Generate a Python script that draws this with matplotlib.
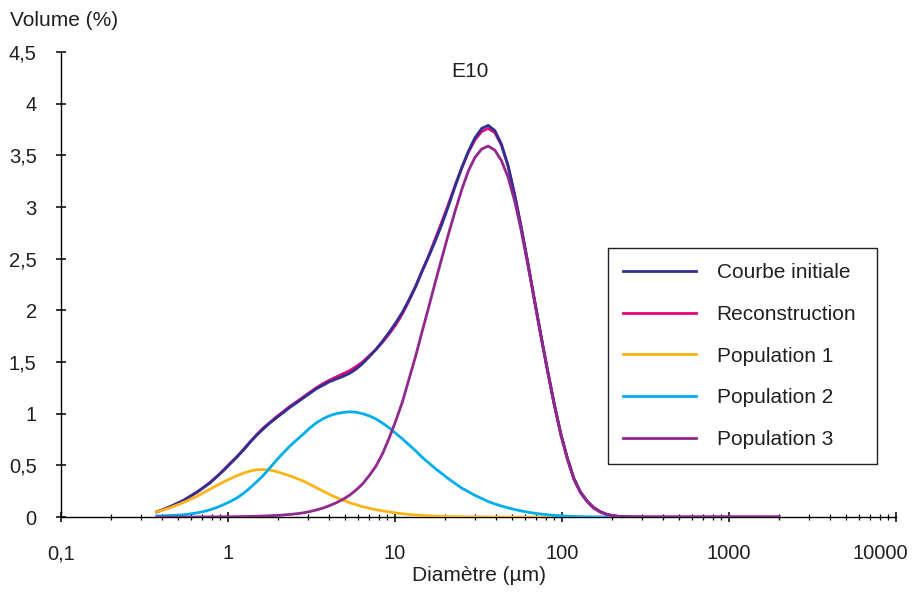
import matplotlib
matplotlib.use("Agg")
import matplotlib.pyplot as plt
from matplotlib.ticker import FixedLocator, FixedFormatter, LogLocator, NullFormatter
from matplotlib.transforms import ScaledTranslation

plt.rcParams["font.family"] = ["Liberation Sans", "DejaVu Sans"]

# particle diameters (µm) on the analyser's log grid
diameter = [0.375, 0.411, 0.45, 0.493, 0.54, 0.592, 0.65, 0.712, 0.78, 0.855,
            0.94, 1.03, 1.13, 1.24, 1.35, 1.48, 1.62, 1.78, 1.95, 2.14,
            2.34, 2.57, 2.81, 3.08, 3.37, 3.70, 4.05, 4.44, 4.86, 5.33,
            5.83, 6.39, 7.0, 7.67, 8.4, 9.2, 10.1, 11.1, 12.1, 13.3,
            14.5, 15.9, 17.4, 19.1, 20.9, 22.9, 25.1, 27.5, 30.1, 33.0,
            36.1, 39.6, 43.3, 47.5, 52.0, 57.0, 62.4, 68.4, 74.9, 82.1,
            89.9, 98.5, 108, 118, 129, 142, 155, 170, 186, 204,
            223, 245, 268, 321, 386, 463, 556, 667, 800, 960,
            1152, 1383, 1660, 1992]

# volume fractions (%)
courbe_initiale = [0.05, 0.075, 0.10, 0.13, 0.16, 0.20, 0.24, 0.285, 0.33, 0.39,
                   0.45, 0.515, 0.58, 0.65, 0.72, 0.79, 0.85, 0.91, 0.96, 1.01,
                   1.06, 1.105, 1.15, 1.195, 1.24, 1.275, 1.31, 1.335, 1.36, 1.39,
                   1.43, 1.485, 1.55, 1.62, 1.70, 1.785, 1.88, 1.985, 2.10, 2.235,
                   2.375, 2.52, 2.67, 2.835, 3.01, 3.20, 3.38, 3.54, 3.67, 3.76,
                   3.79, 3.74, 3.61, 3.40, 3.12, 2.80, 2.46, 2.10, 1.75, 1.41,
                   1.09, 0.80, 0.56, 0.37, 0.24, 0.15, 0.09, 0.05, 0.025, 0.012,
                   0.005, 0.002, 0.001, 0, 0, 0, 0, 0, 0, 0,
                   0, 0, 0, 0]
reconstruction = [0.05, 0.075, 0.10, 0.13, 0.16, 0.20, 0.24, 0.285, 0.335, 0.39,
                  0.455, 0.52, 0.585, 0.655, 0.725, 0.795, 0.86, 0.915, 0.97, 1.02,
                  1.07, 1.115, 1.16, 1.205, 1.25, 1.29, 1.325, 1.355, 1.385, 1.415,
                  1.455, 1.50, 1.56, 1.62, 1.69, 1.77, 1.86, 1.97, 2.09, 2.23,
                  2.38, 2.53, 2.69, 2.86, 3.03, 3.21, 3.38, 3.53, 3.65, 3.73,
                  3.76, 3.72, 3.60, 3.40, 3.12, 2.80, 2.46, 2.10, 1.75, 1.41,
                  1.09, 0.80, 0.56, 0.37, 0.24, 0.15, 0.09, 0.05, 0.025, 0.012,
                  0.005, 0.002, 0.001, 0, 0, 0, 0, 0, 0, 0,
                  0, 0, 0, 0]
population_1 = [0.05, 0.07, 0.09, 0.115, 0.14, 0.17, 0.20, 0.235, 0.27, 0.305,
                0.34, 0.37, 0.40, 0.425, 0.445, 0.457, 0.46, 0.455, 0.44, 0.42,
                0.40, 0.375, 0.35, 0.318, 0.285, 0.252, 0.22, 0.19, 0.165, 0.14,
                0.12, 0.10, 0.085, 0.072, 0.06, 0.05, 0.04, 0.032, 0.025, 0.02,
                0.015, 0.012, 0.009, 0.007, 0.005, 0.004, 0.003, 0.002, 0.002, 0.001,
                0.001, 0, 0, 0, 0, 0, 0, 0, 0, 0,
                0, 0, 0]
population_2 = [0.01, 0.012, 0.015, 0.018, 0.022, 0.03, 0.04, 0.053, 0.07, 0.092,
                0.12, 0.15, 0.185, 0.23, 0.28, 0.34, 0.40, 0.475, 0.55, 0.62,
                0.685, 0.745, 0.80, 0.86, 0.91, 0.95, 0.98, 1.00, 1.012, 1.018,
                1.015, 1.00, 0.98, 0.95, 0.91, 0.865, 0.81, 0.755, 0.70, 0.64,
                0.58, 0.525, 0.47, 0.42, 0.37, 0.325, 0.28, 0.245, 0.21, 0.18,
                0.15, 0.127, 0.107, 0.089, 0.073, 0.059, 0.047, 0.037, 0.029, 0.022,
                0.016, 0.012, 0.008, 0.006, 0.004, 0.003, 0.002, 0.001, 0.001, 0]
population_3 = [0, 0, 0, 0, 0, 0, 0.001, 0.001, 0.002, 0.002,
                0.003, 0.003, 0.004, 0.005, 0.006, 0.008, 0.01, 0.013, 0.016, 0.02,
                0.025, 0.032, 0.04, 0.053, 0.068, 0.087, 0.11, 0.138, 0.17, 0.21,
                0.26, 0.32, 0.40, 0.49, 0.61, 0.76, 0.93, 1.12, 1.33, 1.56,
                1.79, 2.03, 2.27, 2.51, 2.74, 2.96, 3.17, 3.35, 3.48, 3.56,
                3.59, 3.55, 3.45, 3.29, 3.06, 2.77, 2.44, 2.09, 1.74, 1.40,
                1.08, 0.79, 0.55, 0.36, 0.235, 0.145, 0.085, 0.047, 0.024, 0.011,
                0.005, 0.002, 0.001, 0, 0, 0, 0, 0, 0, 0,
                0, 0, 0, 0]

y_ticks = [0, 0.5, 1, 1.5, 2, 2.5, 3, 3.5, 4, 4.5]
y_tick_labels = ["0", "0,5", "1", "1,5", "2", "2,5", "3", "3,5", "4", "4,5"]
x_ticks = [0.1, 1, 10, 100, 1000, 10000]
x_tick_labels = ["0,1", "1", "10", "100", "1000", "10000"]

ink = "#231f20"

fig = plt.figure(figsize=(9.2, 5.95), dpi=100)
ax = fig.add_axes([0.0663, 0.131, 0.9077, 0.7816])

lw = 2.0
ax.plot(diameter, reconstruction, color="#e6007e", lw=lw, zorder=3, label="Reconstruction")
ax.plot(diameter, courbe_initiale, color="#2e3192", lw=lw, zorder=4, label="Courbe initiale")
ax.plot(diameter[:len(population_1)], population_1, color="#fbb415", lw=lw, zorder=5, label="Population 1")
ax.plot(diameter[:len(population_2)], population_2, color="#00aeef", lw=lw, zorder=5, label="Population 2")
ax.plot(diameter, population_3, color="#92278f", lw=lw, zorder=6, label="Population 3")

ax.set_xscale("log")
ax.set_xlim(0.1, 10000)
ax.set_ylim(0, 4.5)

for side in ("top", "right"):
    ax.spines[side].set_visible(False)
for side in ("left", "bottom"):
    ax.spines[side].set_color("black")
    ax.spines[side].set_linewidth(1.0)

ax.xaxis.set_major_locator(FixedLocator(x_ticks))
ax.xaxis.set_major_formatter(FixedFormatter(x_tick_labels))
ax.xaxis.set_minor_locator(LogLocator(base=10, subs=range(2, 10), numticks=20))
ax.xaxis.set_minor_formatter(NullFormatter())
ax.yaxis.set_major_locator(FixedLocator(y_ticks))
ax.yaxis.set_major_formatter(FixedFormatter(y_tick_labels))

ax.tick_params(axis="both", which="major", direction="inout", length=7, width=1.1,
               color="black", labelsize=14.5, labelcolor=ink)
ax.tick_params(axis="x", which="minor", direction="inout", length=5, width=0.9, color="black")
ax.tick_params(axis="x", which="major", pad=16)
ax.tick_params(axis="y", which="major", pad=14)

# pull the last x label back inside the figure
last = ax.xaxis.get_majorticklabels()[-1]
last.set_transform(last.get_transform() + ScaledTranslation(-11 / 72, 0, fig.dpi_scale_trans))

ax.set_xlabel("Diamètre (µm)", fontsize=15, color=ink, labelpad=2)
fig.text(10 / 920, 1 - 20 / 595, "Volume (%)", fontsize=15, color=ink, va="center", ha="left")
ax.text(0.49, 0.958, "E10", transform=ax.transAxes, fontsize=15, color=ink,
        ha="center", va="center")

handles, labels = ax.get_legend_handles_labels()
order = [1, 0, 2, 3, 4]
leg = ax.legend([handles[i] for i in order], [labels[i] for i in order],
                loc="upper left", bbox_to_anchor=(0.655, 0.118, 0.322, 0.46),
                mode="expand", borderaxespad=0,
                fontsize=15, frameon=True, fancybox=False, handlelength=3.5,
                handletextpad=1.0, labelspacing=1.09, borderpad=0.72)
for text in leg.get_texts():
    text.set_color(ink)
frame = leg.get_frame()
frame.set_edgecolor(ink)
frame.set_linewidth(1.0)
frame.set_alpha(1)

fig.savefig("out.png", dpi=100)
